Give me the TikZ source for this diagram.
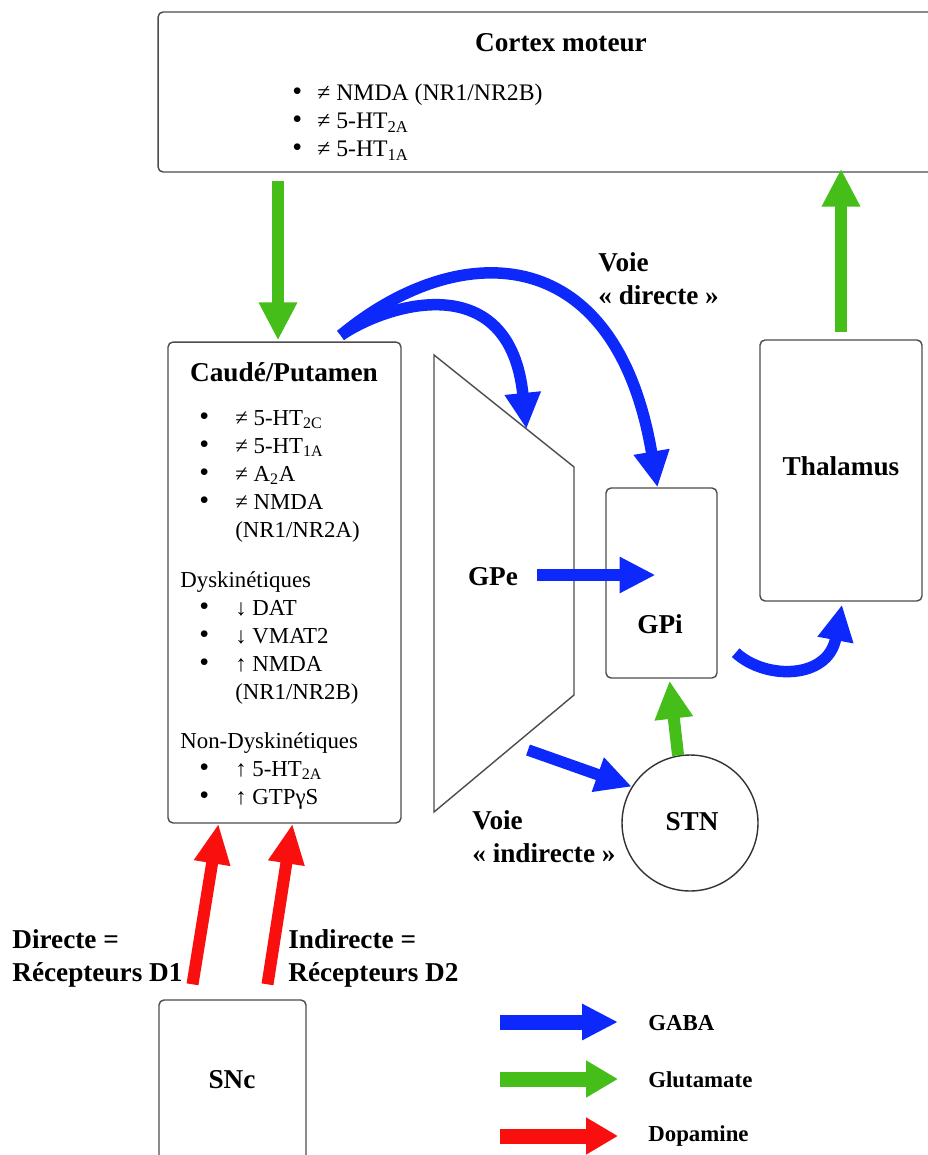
\documentclass[tikz,border=0pt]{standalone}
\usepackage{fontspec}
\setmainfont{Liberation Serif}
\usetikzlibrary{arrows.meta, calc}

\definecolor{gabableu}{RGB}{12,40,250}
\definecolor{gluvert}{RGB}{70,190,25}
\definecolor{doparouge}{RGB}{250,15,15}
\newcommand{\puce}[1][0.72cm]{\makebox[#1][l]{\fontsize{16}{15}\selectfont\textbullet}}

\tikzset{
  boite/.style={draw=black!70, line width=0.8pt, rounded corners=0.1cm, inner sep=0pt},
  titre/.style={font=\fontsize{15.5}{18.7}\selectfont\bfseries, inner sep=0pt},
  liste/.style={font=\fontsize{13}{15.9}\selectfont, align=left, inner sep=0pt, anchor=base west},
  legende/.style={font=\fontsize{13}{15.9}\selectfont\bfseries, inner sep=0pt, anchor=west},
  gaba/.style={draw=gabableu, line width=0.23cm, -{Triangle[width=0.68cm,length=0.72cm]}},
  glu/.style={draw=gluvert, line width=0.24cm, -{Triangle[width=0.72cm,length=0.76cm]}},
  dopa/.style={draw=doparouge, line width=0.24cm, -{Triangle[width=0.68cm,length=0.8cm]}}
}

\begin{document}
\begin{tikzpicture}[x=0.02cm, y=-0.02cm]
\useasboundingbox (0,0) rectangle (927,1155);

% boites
\node[boite, minimum width=15.54cm, minimum height=3.2cm] (cortex) at (546.5,92) {};
\node[boite, minimum width=4.66cm, minimum height=9.62cm] (caude) at (284.5,582.5) {};
\node[boite, minimum width=2.22cm, minimum height=3.8cm] (gpi) at (661.5,583) {};
\node[boite, minimum width=3.24cm, minimum height=5.22cm] (thal) at (841,470.5) {};
\node[boite, minimum width=2.94cm, minimum height=3.3cm] (snc) at (232.5,1082.5) {};
\node[draw=black!80, line width=0.8pt, circle, minimum size=2.72cm, inner sep=0pt] (stn) at (690,823) {};

% GPe
\coordinate (gpe1) at (434,355);
\coordinate (gpe2) at (574,467);
\coordinate (gpe3) at (574,695);
\coordinate (gpe4) at (434,812);
\draw[black!70, line width=0.8pt] (gpe1) -- (gpe2) -- (gpe3) -- (gpe4) -- cycle;

% textes (base = derniere ligne)
\node[titre] (cortexlbl) at (561,43) {Cortex moteur};
\node[liste, font=\fontsize{13.5}{16.2}\selectfont] (cortexliste) at (292,157) {%
  \puce[0.5cm]≠ NMDA (NR1/NR2B)\\
  \puce[0.5cm]≠ 5-HT\textsubscript{2A}\\
  \puce[0.5cm]≠ 5-HT\textsubscript{1A}};
\node[titre] (caudelbl) at (284,372) {Caudé/Putamen};
\node[liste] (caudeliste) at (199,537) {%
  \puce≠ 5-HT\textsubscript{2C}\\
  \puce≠ 5-HT\textsubscript{1A}\\
  \puce≠ A\textsubscript{2}A\\
  \puce≠ NMDA\\
  \hspace*{0.72cm}(NR1/NR2A)};
\node[liste] (dyskliste) at (180,699) {%
  Dyskinétiques\\
  \hspace*{0.38cm}\puce↓ DAT\\
  \hspace*{0.38cm}\puce↓ VMAT2\\
  \hspace*{0.38cm}\puce↑ NMDA\\
  \hspace*{1.1cm}(NR1/NR2B)};
\node[liste] (nondyskliste) at (180,804) {%
  Non-Dyskinétiques\\
  \hspace*{0.38cm}\puce↑ 5-HT\textsubscript{2A}\\
  \hspace*{0.38cm}\puce↑ GTPγS};
\node[titre] (gpelbl) at (493,577) {GPe};
\node[titre] (gpilbl) at (660,624) {GPi};
\node[titre] (thallbl) at (841,466) {Thalamus};
\node[titre] (stnlbl) at (692,822) {STN};
\node[titre] (snclbl) at (232,1080) {SNc};
\node[titre, align=left, anchor=base west] (voiedir) at (598,304) {Voie\\« directe »};
\node[titre, align=left, anchor=base west] (voieind) at (472,862) {Voie\\« indirecte »};
\node[titre, align=left, anchor=base west] (recd1) at (12,981) {Directe =\\Récepteurs D1};
\node[titre, align=left, anchor=base west] (recd2) at (288,981) {Indirecte =\\Récepteurs D2};

% fleches
\draw[glu] ($(caude.north |- cortex.south)+(-6.5,8)$) -- ($(caude.north)+(-6.5,-1)$);
\draw[glu] ($(thal.north)+(0,-7)$) -- ($(thal.north |- cortex.south)+(0,-4)$);
\draw[glu] (stn.100) -- ($(gpi.south)+(8,2)$);
\coordinate (depart) at ($(caude.north east)+(-61,-6)$);
\draw[gaba] (depart) .. controls (390,302) and (510,268) .. ($(gpe1)!0.66!(gpe2)$);
\draw[gaba] (depart) .. controls (455,240) and (615,235) .. ($(gpi.north)+(-4,0)$);
\draw[gaba] ($(gpelbl.east)+(19,-2)$) -- ($(gpi.center)+(-6,-8)$);
\draw[gaba] ($(stn.center)+(-162,-73)$) -- (stn.148);
\draw[gaba] ($(gpi.south east)+(18,-26)$) .. controls (765,680) and (828,680) .. ($(thal.south)+(1,3)$);
\draw[dopa] ($(snc.north)+(-40,-15)$) -- ($(caude.south)+(-66,0)$);
\draw[dopa] ($(snc.north)+(35,-15)$) -- ($(caude.south)+(8,0)$);

% legende
\node[legende] (lgaba) at (648,1023) {GABA};
\node[legende] (lglu) at (648,1080) {Glutamate};
\node[legende] (ldopa) at (648,1136) {Dopamine};
\coordinate (agaba) at (500,1022);
\coordinate (aglu) at (500,1079);
\coordinate (adopa) at (500,1136);
\draw[gaba, line width=0.3cm] (agaba) -- ($(lgaba.west)+(-30,-1)$);
\draw[glu, line width=0.3cm, -{Triangle[width=0.7cm,length=0.64cm]}] (aglu) -- ($(lglu.west)+(-30,-1)$);
\draw[dopa, line width=0.3cm, -{Triangle[width=0.7cm,length=0.64cm]}] (adopa) -- ($(ldopa.west)+(-30,0)$);
\end{tikzpicture}
\end{document}
